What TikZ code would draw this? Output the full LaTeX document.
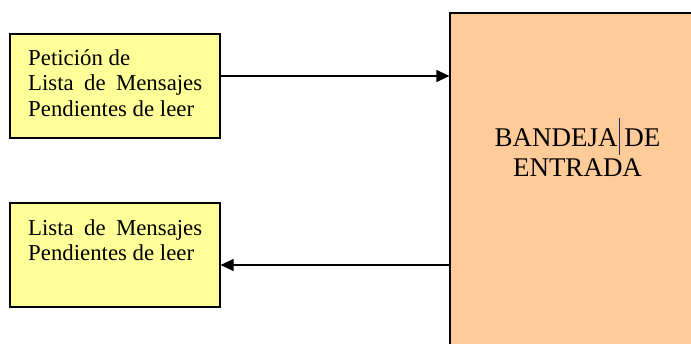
\documentclass[tikz,border=0pt]{standalone}
\usepackage{fontspec}
\setmainfont{Liberation Serif}
\usetikzlibrary{arrows.meta}
\definecolor{boxyellow}{RGB}{255,255,153}
\definecolor{boxorange}{RGB}{255,204,153}
\definecolor{cursor}{RGB}{40,40,90}
\begin{document}
\begin{tikzpicture}[x=1pt,y=-1pt,
  ybox/.style={draw=black,line width=1.2pt,fill=boxyellow,minimum width=210pt,minimum height=104pt,inner sep=0pt},
  obox/.style={draw=black,line width=1.2pt,fill=boxorange,minimum width=255pt,minimum height=380pt,inner sep=0pt},
  smalltxt/.style={anchor=base west,inner sep=0pt,font=\fontsize{22.8}{25.5}\selectfont},
  bigtxt/.style={anchor=base,inner sep=0pt,font=\fontsize{27}{30}\selectfont},
  arr/.style={line width=1.3pt,-{Triangle[length=13pt,width=12pt]}}]
\useasboundingbox (0,0) rectangle (691,343);
\clip (0,0) rectangle (691,343);
\fill[white] (0,0) rectangle (691,343);
\node[ybox] (box1) at (115,86) {};
\node[ybox] (box2) at (115,255) {};
\node[obox] (bandeja) at (577.5,203) {};
\node[smalltxt] (t1) at (28,65) {\parbox[t]{190pt}{\raggedright Petición de\\\makebox[174pt][s]{Lista de Mensajes}\\Pendientes de leer}};
\node[smalltxt] (t2) at (28,235) {\parbox[t]{190pt}{\raggedright \makebox[174pt][s]{Lista de Mensajes}\\Pendientes de leer}};
\node[bigtxt] (t3) at (577.5,146) {\parbox[t]{220pt}{\centering BANDEJA DE\\ENTRADA}};
\draw[cursor,line width=0.8pt] (619,118) -- (619,155);
\draw[arr] ([yshift=10pt]box1.east) coordinate (s1) -- (s1 -| bandeja.west);
\coordinate (e2) at ([yshift=-10pt]box2.east);
\draw[arr] (e2 -| bandeja.west) -- (e2);
\end{tikzpicture}
\end{document}
